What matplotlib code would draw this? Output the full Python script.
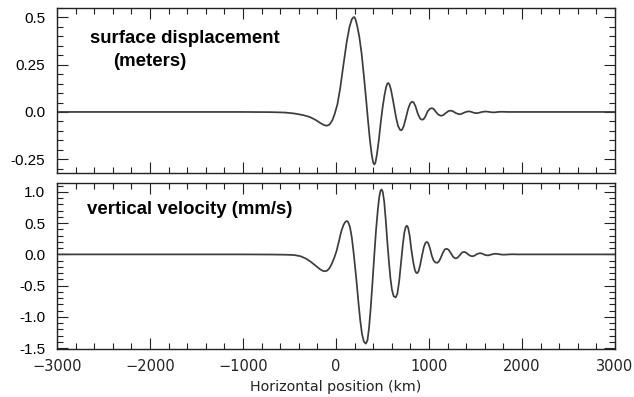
import matplotlib
matplotlib.use("Agg")
import matplotlib.pyplot as plt
from matplotlib.ticker import MultipleLocator

# Posição horizontal (km) e deslocamento da superfície (m)
pos_desloc = [-3000, -1000, -700, -550, -450, -350, -280, -220, -170, -130, -100, -70,
              -40, -15, 15, 45, 80, 115, 145, 170, 185, 197, 210, 228, 250, 275, 300,
              325, 345, 365, 385, 400, 412, 424, 440, 460, 480, 500, 520, 538, 552,
              563, 575, 590, 610, 628, 648, 668, 688, 700, 712, 728, 750, 775, 795,
              810, 822, 835, 855, 880, 905, 920, 930, 942, 960, 985, 1010, 1030, 1050,
              1075, 1100, 1122, 1136, 1152, 1180, 1210, 1233, 1255, 1285, 1315, 1333,
              1350, 1380, 1410, 1430, 1452, 1480, 1505, 1520, 1540, 1570, 1600, 1620,
              1650, 1680, 1710, 1740, 1780, 1850, 3000]
desloc = [0.0, 0.0, -0.001, -0.003, -0.008, -0.017, -0.027, -0.042, -0.058, -0.069,
          -0.073, -0.067, -0.045, -0.012, 0.04, 0.125, 0.25, 0.37, 0.45, 0.49, 0.50,
          0.502, 0.49, 0.455, 0.40, 0.31, 0.19, 0.06, -0.05, -0.15, -0.23, -0.268,
          -0.278, -0.268, -0.225, -0.15, -0.06, 0.02, 0.085, 0.13, 0.15, 0.153, 0.145,
          0.12, 0.07, 0.02, -0.035, -0.075, -0.094, -0.097, -0.093, -0.075, -0.035,
          0.015, 0.042, 0.052, 0.054, 0.05, 0.03, -0.01, -0.035, -0.04, -0.041,
          -0.038, -0.025, 0.003, 0.017, 0.02, 0.016, 0.0, -0.014, -0.019, -0.02,
          -0.017, -0.006, 0.005, 0.007, 0.004, -0.005, -0.011, -0.012, -0.01, -0.003,
          0.002, 0.003, 0.001, -0.004, -0.006, -0.006, -0.004, 0.0, 0.002, 0.002, 0.0,
          -0.002, -0.002, 0.0, 0.001, 0.0, 0.0]

# Posição horizontal (km) e velocidade vertical (mm/s)
pos_veloc = [-3000, -1000, -700, -550, -450, -380, -320, -270, -220, -170, -140, -118,
             -95, -70, -45, -20, 5, 30, 55, 80, 100, 115, 130, 150, 170, 190, 205, 222,
             240, 260, 280, 300, 321, 338, 355, 372, 390, 410, 430, 450, 465, 478, 491,
             503, 518, 535, 552, 568, 585, 602, 620, 642, 660, 680, 700, 718, 735, 750,
             762, 775, 792, 810, 830, 848, 862, 874, 888, 905, 925, 945, 962, 978, 992,
             1010, 1030, 1050, 1070, 1090, 1108, 1128, 1150, 1170, 1190, 1210, 1235,
             1260, 1285, 1305, 1330, 1355, 1377, 1400, 1425, 1448, 1468, 1490, 1515,
             1548, 1575, 1605, 1635, 1665, 1695, 1720, 1750, 1785, 1820, 1860, 1900,
             1950, 3000]
veloc = [0.0, 0.0, -0.002, -0.005, -0.01, -0.03, -0.07, -0.12, -0.18, -0.24, -0.265,
         -0.27, -0.26, -0.22, -0.15, -0.06, 0.05, 0.2, 0.36, 0.47, 0.52, 0.535, 0.52,
         0.44, 0.27, 0.02, -0.2, -0.45, -0.75, -1.05, -1.28, -1.4, -1.43, -1.38, -1.18,
         -0.88, -0.5, -0.05, 0.38, 0.72, 0.92, 1.02, 1.04, 1.0, 0.85, 0.55, 0.2, -0.1,
         -0.38, -0.57, -0.67, -0.69, -0.63, -0.42, -0.12, 0.15, 0.35, 0.44, 0.46, 0.43,
         0.3, 0.08, -0.12, -0.25, -0.295, -0.30, -0.27, -0.17, -0.02, 0.12, 0.185, 0.2,
         0.18, 0.1, -0.02, -0.1, -0.13, -0.135, -0.11, -0.05, 0.03, 0.08, 0.09, 0.075,
         0.02, -0.04, -0.065, -0.055, -0.015, 0.03, 0.04, 0.028, -0.005, -0.025, -0.03,
         -0.02, 0.005, 0.02, 0.01, -0.01, -0.017, -0.005, 0.008, 0.01, 0.004, -0.004,
         -0.004, 0.0, 0.002, 0.0, 0.0]

# Marcas e rótulos dos eixos
x_ticks = [-3000, -2000, -1000, 0, 1000, 2000, 3000]
x_labels = ["\u22123000", "\u22122000", "\u22121000", "0", "1000", "2000", "3000"]
y1_ticks = [-0.25, 0.0, 0.25, 0.5]
y1_labels = ["-0.25", "0.0", "0.25", "0.5"]
y2_ticks = [-1.5, -1.0, -0.5, 0.0, 0.5, 1.0]
y2_labels = ["-1.5", "-1.0", "-0.5", "0.0", "0.5", "1.0"]

cor_linha = "#3c3c3c"
W, H = 634, 397

fig = plt.figure(figsize=(W / 100, H / 100), dpi=100)
ax1 = fig.add_axes([57 / W, 1 - 173 / H, 558 / W, 165 / H])
ax2 = fig.add_axes([57 / W, 1 - 349 / H, 558 / W, 166 / H])

ax1.plot(pos_desloc, desloc, color=cor_linha, lw=1.25)
ax2.plot(pos_veloc, veloc, color=cor_linha, lw=1.25)

ax1.set_ylim(-0.323, 0.55)
ax2.set_ylim(-1.516, 1.144)

# Configuração comum dos dois painéis
for ax in (ax1, ax2):
    ax.set_xlim(-3000, 3000)
    ax.set_xticks(x_ticks)
    ax.xaxis.set_minor_locator(MultipleLocator(200))
    ax.tick_params(which="both", direction="in", top=True, right=True,
                   color="#222222", width=0.8)
    ax.tick_params(axis="y", which="major", pad=8.5)
    ax.tick_params(axis="x", which="major", pad=7.5)
    ax.tick_params(which="major", length=8)
    ax.tick_params(which="minor", length=4)
    for sp in ax.spines.values():
        sp.set_linewidth(1.0)
        sp.set_color("#222222")

ax1.set_yticks(y1_ticks, y1_labels, fontfamily="Liberation Sans", fontsize=11)
ax1.yaxis.set_minor_locator(MultipleLocator(0.05))
ax1.tick_params(axis="x", labelbottom=False)

ax2.set_yticks(y2_ticks, y2_labels, fontfamily="Liberation Sans", fontsize=11)
ax2.yaxis.set_minor_locator(MultipleLocator(0.1))
ax2.set_xticks(x_ticks, x_labels, fontfamily="DejaVu Sans", fontsize=10.5,
               color="#222222")
ax2.set_xlabel("Horizontal position (km)", fontfamily="DejaVu Sans", fontsize=10.3,
               labelpad=4, color="#222222")

# Títulos dentro dos painéis
ax1.text(0.059, 0.818, "surface displacement", transform=ax1.transAxes,
         fontfamily="Liberation Sans", fontweight="bold", fontsize=13.4, va="center")
ax1.text(0.100, 0.673, "(meters)", transform=ax1.transAxes,
         fontfamily="Liberation Sans", fontweight="bold", fontsize=13.4, va="center")
ax2.text(0.054, 0.843, "vertical velocity (mm/s)", transform=ax2.transAxes,
         fontfamily="Liberation Sans", fontweight="bold", fontsize=13.4, va="center")

fig.savefig("out.png", dpi=100)
